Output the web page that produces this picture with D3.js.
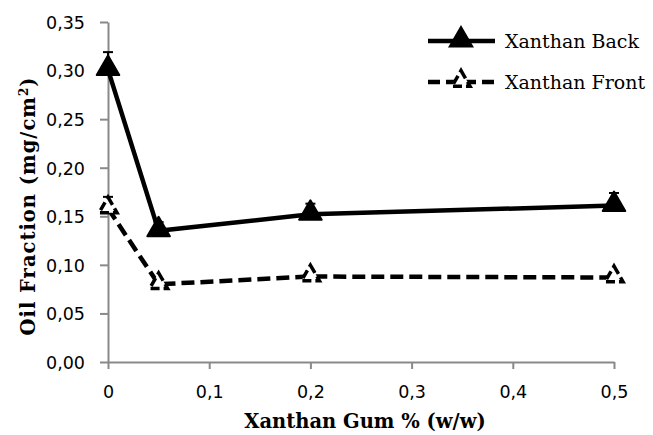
<!DOCTYPE html>
<html><head><meta charset="utf-8">
<script src="https://cdn.jsdelivr.net/npm/d3@7/dist/d3.min.js"></script>
<style>body{margin:0;background:#fff}</style>
</head><body><svg id="c" width="653" height="435"></svg>
<script>
const xValues = [0, 0.05, 0.2, 0.5];
const backValues = [0.301, 0.135, 0.152, 0.161];
const backErrors = [0.018, 0.009, 0.011, 0.013];
const frontValues = [0.158, 0.080, 0.088, 0.087];
const frontErrors = [0.012, 0.005, 0.005, 0.005];
const yTicks = [0, 0.05, 0.10, 0.15, 0.20, 0.25, 0.30, 0.35];
const xTicks = [0, 0.1, 0.2, 0.3, 0.4, 0.5];
const seriesNames = ["Xanthan Back", "Xanthan Front"];

const svg = d3.select("#c");
const x = d3.scaleLinear().domain([0, 0.5]).range([108, 614]);
const y = d3.scaleLinear().domain([0, 0.35]).range([362, 22]);
const fmt = d => d3.format(".2f")(d).replace(".", ",");
const fmtX = d => d === 0 ? "0" : d3.format(".1f")(d).replace(".", ",");
const axisColor = "#898989";
const serif = "DejaVu Serif, serif";

const gy = svg.append("g").attr("transform", "translate(108,0)")
  .call(d3.axisLeft(y).tickValues(yTicks).tickFormat(fmt).tickSize(8).tickSizeOuter(0));
const gx = svg.append("g").attr("transform", "translate(0,362)")
  .call(d3.axisBottom(x).tickValues(xTicks).tickFormat(fmtX).tickSize(7).tickSizeOuter(0));
[gy, gx].forEach(g => {
  g.attr("font-size", 17.5).attr("font-family", "DejaVu Sans, sans-serif");
  g.select(".domain").attr("stroke", axisColor).attr("stroke-width", 2);
  g.selectAll(".tick line").attr("stroke", axisColor).attr("stroke-width", 2);
  g.selectAll(".tick text").attr("fill", "#000").attr("font-size", 17.5).attr("font-family", "DejaVu Sans, sans-serif");
});
gy.selectAll(".tick text").attr("x", -23).attr("dy", "0.36em");
gx.selectAll(".tick text").attr("y", 24).attr("dy", "0.71em");

// axis titles
svg.append("text").attr("transform", "translate(35,206) rotate(-90)").attr("text-anchor", "middle")
  .attr("font-family", serif).attr("font-weight", "bold").attr("font-size", 19.5).attr("letter-spacing", 1)
  .html('Oil Fraction (mg/cm<tspan baseline-shift="super" font-size="12">2</tspan>)');
svg.append("text").attr("x", 365).attr("y", 428).attr("text-anchor", "middle")
  .attr("font-family", serif).attr("font-weight", "bold").attr("font-size", 19.5)
  .text("Xanthan Gum % (w/w)");

const line = d3.line().x(d => x(d[0])).y(d => y(d[1]));
const backData = xValues.map((v, i) => [v, backValues[i], backErrors[i]]);
const frontData = xValues.map((v, i) => [v, frontValues[i], frontErrors[i]]);

function errorBars(data) {
  const g = svg.append("g").attr("stroke", "#000").attr("stroke-width", 2);
  data.forEach(d => {
    g.append("line").attr("x1", x(d[0])).attr("x2", x(d[0])).attr("y1", y(d[1])).attr("y2", y(d[1] + d[2]));
    g.append("line").attr("x1", x(d[0]) - 5).attr("x2", x(d[0]) + 5).attr("y1", y(d[1] + d[2])).attr("y2", y(d[1] + d[2]));
  });
}
errorBars(backData);
errorBars(frontData);

svg.append("path").datum(backData).attr("d", line).attr("fill", "none").attr("stroke", "#000").attr("stroke-width", 4.5);
svg.append("path").datum(frontData).attr("d", line).attr("fill", "none").attr("stroke", "#000").attr("stroke-width", 4.5).attr("stroke-dasharray", "13,6");

const tri = d3.symbol().type(d3.symbolTriangle).size(220);
svg.append("g").selectAll("path").data(backData).join("path")
  .attr("d", tri).attr("transform", d => `translate(${x(d[0])},${y(d[1]) - 1})`)
  .attr("fill", "#000").attr("stroke", "#000").attr("stroke-width", 2).attr("stroke-linejoin", "round");
const triF = d3.symbol().type(d3.symbolTriangle).size(140);
svg.append("g").selectAll("path").data(frontData).join("path")
  .attr("d", triF).attr("transform", d => `translate(${x(d[0])},${y(d[1]) - 1})`)
  .attr("fill", "#fff").attr("stroke", "#000").attr("stroke-width", 3.5).attr("stroke-dasharray", "9,4");

// legend
const lg = svg.append("g");
[0, 1].forEach(i => {
  const yy = 41 + i * 41;
  lg.append("line").attr("x1", 428).attr("x2", 495).attr("y1", yy).attr("y2", yy)
    .attr("stroke", "#000").attr("stroke-width", 4.5).attr("stroke-dasharray", i ? "12,6" : null);
  lg.append("path").attr("d", i ? triF() : tri()).attr("transform", `translate(461,${yy - 1})`)
    .attr("fill", i ? "#fff" : "#000").attr("stroke", "#000").attr("stroke-width", i ? 3.5 : 2)
    .attr("stroke-dasharray", i ? "9,4" : null);
  lg.append("text").attr("x", 505).attr("y", yy).attr("dy", "0.35em")
    .attr("font-family", serif).attr("font-size", 19).text(seriesNames[i]);
});
</script></body></html>
